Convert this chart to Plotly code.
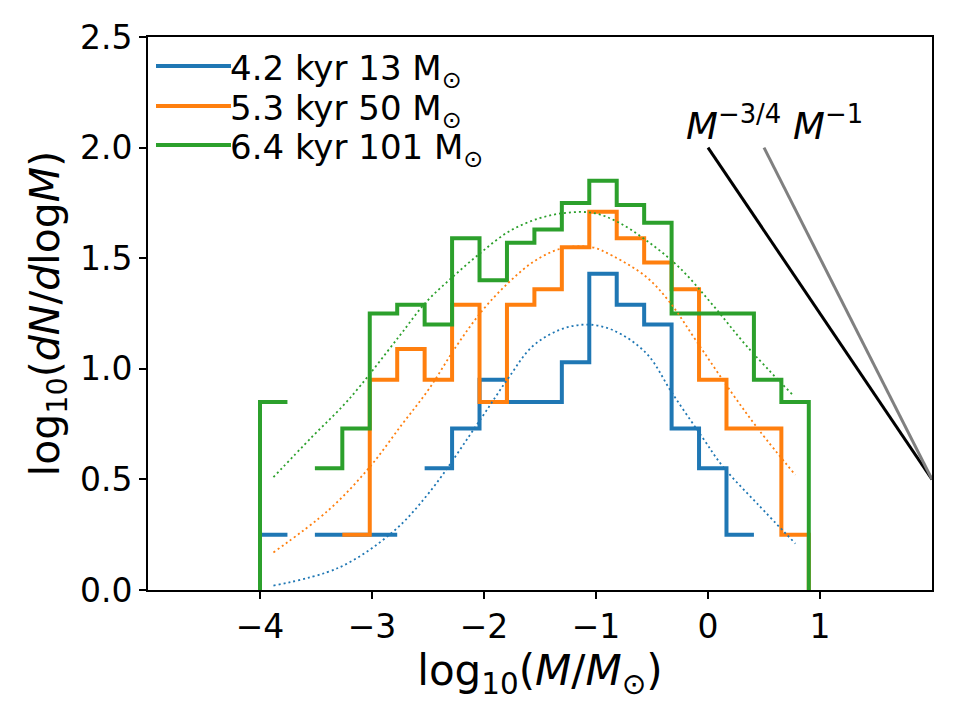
import numpy as np
import plotly.graph_objects as go

# ---------------- data ----------------
bin_edges = list(np.round(np.linspace(-4.0, 0.9, 21), 4))

blue_vals = [0.25, None, 0.25, 0.25, 0.25, None, 0.55, 0.73, 0.95, 0.85,
             0.85, 1.03, 1.43, 1.29, 1.20, 0.73, 0.55, 0.25, None, None]
orange_vals = [None, None, None, 0.25, 0.95, 1.09, 0.95, 1.29, 0.85, 1.29,
               1.36, 1.55, 1.71, 1.59, 1.48, 1.36, 0.95, 0.73, 0.73, 0.25]
green_vals = [0.85, None, 0.55, 0.73, 1.25, 1.29, 1.20, 1.59, 1.40, 1.57,
              1.63, 1.75, 1.85, 1.74, 1.66, 1.25, 1.25, 1.25, 0.95, 0.85]

blue_fit_x = [-3.88, -3.30, -2.82, -2.49, -2.02, -1.78, -1.57, -1.33, -1.09, -0.85, -0.55, -0.32, -0.05, 0.13, 0.44, 0.78]
blue_fit_y = [0.02, 0.10, 0.26, 0.44, 0.78, 0.96, 1.10, 1.175, 1.20, 1.175, 1.07, 0.89, 0.69, 0.56, 0.39, 0.21]

orange_fit_x = [-3.88, -3.39, -3.03, -2.73, -2.49, -2.25, -2.02, -1.78, -1.54, -1.30, -1.04, -0.85, -0.55, -0.34, -0.11, 0.20, 0.46, 0.78]
orange_fit_y = [0.17, 0.36, 0.55, 0.75, 0.91, 1.10, 1.26, 1.39, 1.49, 1.545, 1.55, 1.51, 1.415, 1.30, 1.13, 0.90, 0.72, 0.52]

green_fit_x = [-3.88, -3.54, -3.21, -2.76, -2.52, -2.28, -2.04, -1.78, -1.51, -1.27, -1.03, -0.81, -0.55, -0.26, 0.04, 0.35, 0.76]
green_fit_y = [0.51, 0.69, 0.86, 1.145, 1.30, 1.415, 1.52, 1.62, 1.68, 1.705, 1.705, 1.665, 1.58, 1.46, 1.29, 1.10, 0.88]

slope34_x = [0.0, 2.0]
slope34_y = [2.0, 0.5]
slope1_x = [0.5, 2.0]
slope1_y = [2.0, 0.5]

labels = ["4.2 kyr 13 M<sub>⊙</sub>", "5.3 kyr 50 M<sub>⊙</sub>", "6.4 kyr 101 M<sub>⊙</sub>"]
colors = ["#1f77b4", "#ff7f0e", "#2ca02c"]

x_ticks = [-4, -3, -2, -1, 0, 1]
y_ticks = [0.0, 0.5, 1.0, 1.5, 2.0, 2.5]

FONT = "DejaVu Sans"


def stairs(edges, vals, baseline=0.0):
    xs, ys = [], []
    if vals[0] is not None:
        xs.append(edges[0]); ys.append(baseline)
    for i, v in enumerate(vals):
        if v is None:
            if xs and xs[-1] is not None:
                xs.append(None); ys.append(None)
            continue
        xs += [edges[i], edges[i + 1]]
        ys += [v, v]
    if vals[-1] is not None:
        xs.append(edges[-1]); ys.append(baseline)
    return xs, ys


fig = go.Figure()

for vals, c in zip([blue_vals, orange_vals, green_vals], colors):
    sx, sy = stairs(bin_edges, vals)
    fig.add_trace(go.Scatter(x=sx, y=sy, mode="lines", line=dict(color=c, width=4),
                             connectgaps=False, showlegend=False, hoverinfo="skip"))

for fx, fy, c in zip([blue_fit_x, orange_fit_x, green_fit_x],
                     [blue_fit_y, orange_fit_y, green_fit_y], colors):
    fig.add_trace(go.Scatter(x=fx, y=fy, mode="lines",
                             line=dict(color=c, width=1.8, dash="2px,3px", shape="spline", smoothing=1.0),
                             showlegend=False, hoverinfo="skip"))

fig.add_trace(go.Scatter(x=slope34_x, y=slope34_y, mode="lines",
                         line=dict(color="black", width=3), showlegend=False))
fig.add_trace(go.Scatter(x=slope1_x, y=slope1_y, mode="lines",
                         line=dict(color="gray", width=3), showlegend=False))

# power-law labels
fig.add_annotation(x=-0.21, y=1.99, xref="x", yref="y", xanchor="left", yanchor="bottom",
                   text="<i>M</i><sup>−3/4</sup>", showarrow=False,
                   font=dict(family=FONT, size=37, color="black"))
fig.add_annotation(x=0.74, y=1.99, xref="x", yref="y", xanchor="left", yanchor="bottom",
                   text="<i>M</i><sup>−1</sup>", showarrow=False,
                   font=dict(family=FONT, size=37, color="black"))

# manual legend (matplotlib style, no frame)
L, T, W, H = 148, 37, 784, 553
def px(xp):
    return (xp - L) / W
def py(yp):
    return (T + H - yp) / H

leg_y = [66, 106, 145]
for lab, c, yy in zip(labels, colors, leg_y):
    fig.add_shape(type="line", xref="paper", yref="paper",
                  x0=px(156), x1=px(231), y0=py(yy), y1=py(yy),
                  line=dict(color=c, width=4))
    fig.add_annotation(x=px(229), y=py(yy + 5), xref="paper", yref="paper",
                       xanchor="left", yanchor="middle", text=lab, showarrow=False,
                       height=34, valign="middle", borderpad=0,
                       font=dict(family=FONT, size=34, color="black"))

fig.update_layout(
    width=960, height=720,
    margin=dict(l=L, r=960 - L - W, t=T, b=720 - T - H),
    plot_bgcolor="white", paper_bgcolor="white",
    font=dict(family=FONT, size=33, color="black"),
    showlegend=False,
)
fig.update_xaxes(range=[-5, 2], tickvals=x_ticks, ticks="outside", ticklen=7, tickwidth=1.6,
                 tickcolor="black", showline=True, linecolor="black", linewidth=1.6, mirror=True,
                 showgrid=False, zeroline=False, tickfont=dict(family=FONT, size=33),
                 title=dict(text="log<sub>10</sub>(<i>M</i>/<i>M</i><sub>⊙</sub>)",
                            font=dict(family=FONT, size=42), standoff=6))
fig.update_yaxes(range=[0, 2.5], tickvals=y_ticks, tickformat=".1f", ticks="outside", ticklen=7,
                 tickwidth=1.6, tickcolor="black", showline=True, linecolor="black", linewidth=1.6,
                 mirror=True, showgrid=False, zeroline=False, tickfont=dict(family=FONT, size=33),
                 title=dict(text="log<sub>10</sub>(<i>dN</i>/<i>d</i>log<i>M</i>)",
                            font=dict(family=FONT, size=41), standoff=8))

fig.write_html("out.html")
